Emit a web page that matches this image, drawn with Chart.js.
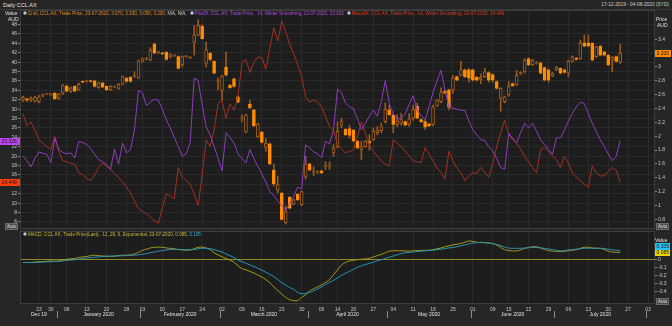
<!DOCTYPE html>
<html>
<head>
<meta charset="utf-8">
<title>Daily CCL.AX</title>
<script src="https://cdn.jsdelivr.net/npm/chart.js@4.4.0/dist/chart.umd.min.js"></script>
<style>
  body { margin: 0; width: 672px; height: 326px; overflow: hidden; background: #262626; position: relative;
         font-family: "Liberation Sans", Arial, sans-serif; }
  canvas { position: absolute; left: 0; }
  #main { top: 10px; }
  #macd { top: 229px; }
  .t { position: absolute; white-space: nowrap; font-size: 5px; line-height: 6px; color: #cfcfcf; }
  .leg { font-size: 4.6px; }
  .leg .ic { margin-left: 3px; }
  .leg .ic:first-child { margin-left: 0; }
  .ic { display: inline-block; width: 4px; height: 4px; border-radius: 50%; background: #e6e6e6;
        border: 1px solid #6d7f99; box-sizing: border-box; margin-right: 1px; vertical-align: -0.5px; }
  .auto { position: absolute; font-size: 4.5px; line-height: 5px; color: #e0e0e0; background: #4a4a4a;
          border: 1px solid #6c6c6c; padding: 0 1px; }
  #topline { position: absolute; left: 0; top: 9px; width: 672px; height: 1px; background: #3a3a3a; }
</style>
</head>
<body>
<div class="t" style="left:3px;top:2px;font-size:5.5px;color:#e0e0e0">Daily CCL.AX</div>
<div class="t" style="right:3px;top:2px;font-size:4.8px;color:#cfcfcf">17-12-2019 - 04-08-2020 (SYD)</div>
<div id="topline"></div>
<canvas id="main" width="672" height="219" style="width:672px;height:219px"></canvas>
<canvas id="macd" width="672" height="97" style="width:672px;height:97px"></canvas>
<div id="labels"></div>

<script>
// trading calendar (ASX)
const firstDay = '2019-12-17';
const lastDay = '2020-08-04';
const holidays = ['2019-12-25', '2019-12-26', '2020-01-01', '2020-01-27', '2020-04-10', '2020-04-13', '2020-06-08'];
const monthLabels = ['Dec 19', 'January 2020', 'February 2020', 'March 2020', 'April 2020', 'May 2020', 'June 2020', 'July 2020', ''];

// daily candles, AUD
const candleOpen = [2.52,2.54,2.52,2.51,2.50,2.58,2.61,2.60,2.62,2.55, 2.62,2.72,2.65,2.72,2.67,2.79,2.79,2.80,2.80,2.70,
  2.77,2.72,2.67,2.71,2.69,2.75,2.84,2.85,2.86,2.84, 3.08,3.11,3.10,3.33,3.21,3.20,3.21,3.14,3.16,3.15,
  3.03,3.15,3.13,3.36,3.46,3.59,3.05,3.20,3.08,2.79, 2.66,3.00,2.74,2.83,2.57,2.25,2.06,2.46,2.38,1.99,
  2.06,1.84,1.89,1.51,1.22,1.18,0.75,1.12,1.02,1.16, 1.01,1.42,1.60,1.48,1.48,1.50,1.56,1.57,1.76,1.85,
  2.16,2.10,2.11,2.09,1.93,1.81,1.85,1.93,1.95,2.05, 2.08,2.21,2.38,2.31,2.17,2.19,2.21,2.17,2.26,2.43,
  2.24,2.21,2.18,2.17,2.44,2.50,2.65,2.67,2.67,2.86, 2.88,2.96,2.96,2.96,2.85,2.82,2.86,2.92,2.89,2.79,
  2.55,2.50,2.60,2.76,2.74,2.90,2.93,3.12,3.03,3.05, 3.06,2.99,2.96,2.87,2.96,2.98,2.96,2.91,3.08,3.13,
  3.12,3.35,3.35,3.34,3.15,3.30,3.22,3.17,3.10,3.15, 3.07];
const candleHigh = [2.58,2.55,2.57,2.58,2.59,2.61,2.62,2.61,2.63,2.62, 2.75,2.74,2.71,2.73,2.77,2.80,2.81,2.81,2.81,2.78,
  2.78,2.73,2.73,2.73,2.76,2.87,2.85,2.86,2.93,3.10, 3.13,3.14,3.28,3.35,3.22,3.21,3.22,3.19,3.18,3.16,
  3.16,3.16,3.15,3.60,3.68,3.61,3.36,3.21,3.09,2.84, 2.88,3.22,2.75,2.84,2.58,2.31,2.32,2.52,2.39,2.19,
  2.07,1.97,1.90,1.60,1.42,1.19,0.99,1.13,1.09,1.17, 1.21,1.71,1.61,1.56,1.50,1.51,1.63,1.63,1.88,2.21,
  2.26,2.11,2.16,2.10,1.94,1.93,1.94,2.02,2.12,2.14, 2.19,2.48,2.45,2.32,2.31,2.33,2.22,2.33,2.45,2.48,
  2.25,2.23,2.19,2.45,2.53,2.70,2.67,2.68,2.88,2.87, 3.08,2.97,2.98,2.97,2.86,2.90,2.98,2.93,2.90,2.80,
  2.70,2.58,2.79,2.77,2.95,2.93,3.12,3.13,3.11,3.08, 3.07,3.00,2.97,2.92,3.01,2.99,2.97,3.10,3.16,3.14,
  3.39,3.46,3.46,3.35,3.30,3.31,3.23,3.18,3.15,3.16, 3.33];
const candleLow = [2.50,2.50,2.50,2.49,2.48,2.57,2.60,2.59,2.53,2.53, 2.60,2.64,2.63,2.64,2.66,2.77,2.78,2.78,2.71,2.69,
  2.70,2.66,2.66,2.70,2.68,2.74,2.78,2.78,2.85,2.83, 3.07,3.10,3.09,3.19,3.19,3.18,3.10,3.13,3.15,2.97,
  3.00,3.14,3.12,3.17,3.45,3.40,3.00,3.09,2.90,2.67, 2.52,2.87,2.69,2.71,2.48,2.21,2.05,2.40,2.14,1.98,
  1.90,1.78,1.59,1.28,1.18,0.79,0.73,0.95,1.01,1.07, 1.00,1.38,1.50,1.43,1.46,1.46,1.52,1.52,1.71,1.83,
  2.12,2.01,1.97,1.92,1.82,1.66,1.84,1.80,1.94,2.02, 2.05,2.19,2.30,2.05,2.14,2.16,2.15,2.14,2.23,2.25,
  2.20,2.10,2.14,2.15,2.43,2.48,2.61,2.38,2.62,2.80, 2.87,2.85,2.78,2.80,2.80,2.76,2.85,2.78,2.78,2.68,
  2.36,2.48,2.58,2.72,2.73,2.89,2.91,3.02,3.02,3.04, 2.90,2.80,2.78,2.86,2.95,2.90,2.91,2.86,3.07,3.10,
  3.11,3.29,3.29,3.09,3.14,3.16,3.16,3.02,2.93,3.07, 3.05];
const candleClose = [2.56,2.52,2.55,2.56,2.57,2.60,2.61,2.60,2.54,2.61, 2.74,2.65,2.70,2.65,2.75,2.78,2.80,2.79,2.72,2.77,
  2.71,2.67,2.72,2.72,2.75,2.86,2.79,2.79,2.86,3.09, 3.12,3.12,3.24,3.20,3.21,3.19,3.11,3.18,3.17,2.98,
  3.15,3.15,3.14,3.46,3.60,3.41,3.25,3.11,2.91,2.80, 2.87,2.88,2.70,2.72,2.49,2.25,2.31,2.41,2.15,2.18,
  1.91,1.90,1.60,1.31,1.30,0.80,0.91,0.96,1.08,1.08, 1.20,1.60,1.51,1.48,1.48,1.47,1.57,1.57,1.83,2.07,
  2.21,2.02,2.01,1.93,1.83,1.85,1.93,1.90,2.07,2.09, 2.14,2.39,2.31,2.17,2.22,2.24,2.16,2.25,2.39,2.26,
  2.21,2.13,2.15,2.42,2.52,2.63,2.62,2.42,2.84,2.81, 2.96,2.86,2.84,2.81,2.81,2.85,2.93,2.81,2.81,2.69,
  2.69,2.57,2.72,2.73,2.88,2.92,3.10,3.03,3.10,3.06, 2.91,2.81,2.81,2.91,3.00,2.91,2.92,3.08,3.15,3.11,
  3.34,3.30,3.30,3.10,3.29,3.17,3.17,3.03,3.14,3.08, 3.20];

// directional indicators (14, Wilder)
const plusDI = [20.0,19.0,17.7,19.5,20.9,20.6,20.4,18.6,23.8,21.4, 20.8,20.5,20.7,19.6,23.1,22.9,22.5,21.6,20.4,19.3,
  18.8,18.2,17.2,21.5,18.3,22.8,20.7,21.4,25.6,34.0, 33.5,30.8,31.5,32.1,31.9,30.0,27.7,26.0,24.0,22.0,
  20.0,20.5,22.8,36.6,36.1,31.0,26.3,24.5,22.1,19.5, 16.9,25.0,24.0,22.8,20.5,19.5,18.6,21.4,19.5,17.8,
  16.2,14.5,12.5,11.6,10.5,9.5,8.5,9.9,11.5,13.4, 13.0,22.4,21.8,20.9,20.5,19.7,23.2,22.6,25.6,34.3,
  33.5,31.3,30.5,30.1,28.0,25.6,27.0,28.5,29.8,28.5, 31.5,36.1,31.2,29.0,28.0,28.0,29.0,31.0,32.9,29.8,
  28.7,27.7,30.5,33.6,36.0,38.3,34.0,30.5,30.2,30.0, 29.8,29.7,27.5,25.6,24.5,23.5,23.3,22.0,21.1,19.5,
  17.6,17.2,24.9,23.8,22.8,25.0,27.0,26.0,27.0,25.3, 23.5,22.5,21.4,20.4,23.9,23.9,25.5,27.5,29.1,30.5,
  31.5,31.2,29.0,27.0,25.2,23.5,22.1,20.5,19.0,20.0, 23.326];
const minusDI = [29.0,26.5,27.3,25.5,23.5,22.8,22.0,21.4,24.2,21.0, 19.0,18.8,18.5,18.3,16.5,16.0,15.3,14.8,16.0,17.6,
  18.6,17.8,17.2,16.2,15.5,14.5,13.4,12.3,10.5,8.8, 8.2,7.8,7.0,6.3,5.7,9.0,12.0,11.5,10.9,17.6,
  15.5,14.8,14.0,12.0,9.5,16.0,23.5,22.0,25.6,31.2, 31.9,28.0,31.2,29.8,32.7,39.9,40.6,37.8,40.0,41.1,
  41.0,38.5,43.0,47.3,44.5,48.7,46.5,43.8,41.8,39.5, 37.0,32.6,31.5,31.9,31.5,30.5,28.4,26.3,25.5,22.5,
  21.5,20.7,21.0,21.4,24.0,27.3,24.9,22.5,21.0,20.0, 19.0,18.3,17.9,23.5,22.8,22.0,21.1,20.0,19.0,18.8,
  18.6,21.8,20.4,19.0,17.5,16.5,15.1,21.1,19.0,17.5, 16.5,14.8,15.8,16.5,16.3,17.6,16.5,15.5,18.5,22.1,
  25.0,27.7,24.6,23.5,22.8,21.5,20.0,18.8,17.6,16.5, 21.4,21.8,21.0,20.0,19.3,17.6,20.0,18.5,16.5,15.5,
  14.8,14.0,13.4,17.9,16.5,15.8,15.8,16.8,17.6,17.0, 14.449];

// MACD 12, 26, 9
const macdLine = [-0.04,-0.04,-0.04,-0.035,-0.03,-0.03,-0.025,-0.02,-0.025,-0.02, -0.01,0,0.005,0.01,0.02,0.03,0.035,0.045,0.05,0.045,
  0.04,0.035,0.035,0.04,0.045,0.05,0.05,0.055,0.065,0.085, 0.11,0.125,0.14,0.148,0.15,0.148,0.14,0.135,0.13,0.12,
  0.115,0.112,0.115,0.13,0.148,0.15,0.14,0.12,0.08,0.055, 0.03,0.01,-0.01,-0.035,-0.08,-0.115,-0.13,-0.15,-0.17,-0.195,
  -0.22,-0.25,-0.29,-0.34,-0.385,-0.43,-0.47,-0.5,-0.51,-0.51, -0.47,-0.44,-0.39,-0.365,-0.34,-0.315,-0.285,-0.25,-0.19,-0.13,
  -0.07,-0.04,-0.02,-0.012,-0.005,0,0.005,0.01,0.03,0.045, 0.06,0.08,0.1,0.105,0.105,0.105,0.103,0.1,0.105,0.107,
  0.11,0.11,0.112,0.118,0.13,0.14,0.155,0.165,0.178,0.185, 0.195,0.21,0.226,0.22,0.21,0.205,0.205,0.2,0.195,0.175,
  0.145,0.118,0.108,0.103,0.103,0.115,0.135,0.145,0.155,0.155, 0.14,0.12,0.108,0.1,0.097,0.095,0.098,0.105,0.112,0.118,
  0.135,0.148,0.148,0.14,0.135,0.135,0.12,0.1,0.09,0.085, 0.085];
const macdSignal = [-0.04,-0.04,-0.04,-0.038,-0.036,-0.034,-0.032,-0.03,-0.028,-0.025, -0.02,-0.015,-0.01,-0.005,0,0.01,0.015,0.02,0.025,0.03,
  0.035,0.04,0.04,0.04,0.042,0.044,0.046,0.048,0.05,0.055, 0.062,0.07,0.08,0.09,0.1,0.107,0.115,0.12,0.123,0.122,
  0.12,0.118,0.118,0.12,0.13,0.136,0.135,0.13,0.12,0.105, 0.09,0.065,0.045,0.02,-0.01,-0.03,-0.05,-0.07,-0.09,-0.11,
  -0.135,-0.16,-0.185,-0.215,-0.25,-0.29,-0.32,-0.35,-0.37,-0.41, -0.425,-0.42,-0.41,-0.39,-0.365,-0.34,-0.31,-0.285,-0.26,-0.23,
  -0.2,-0.173,-0.15,-0.125,-0.1,-0.08,-0.065,-0.05,-0.035,-0.02, -0.005,0.01,0.025,0.04,0.055,0.07,0.08,0.085,0.09,0.095,
  0.1,0.105,0.108,0.112,0.118,0.125,0.132,0.14,0.145,0.155, 0.165,0.178,0.19,0.2,0.205,0.21,0.208,0.2,0.192,0.182,
  0.168,0.15,0.138,0.135,0.135,0.136,0.138,0.142,0.145,0.145, 0.14,0.135,0.128,0.12,0.11,0.103,0.108,0.115,0.12,0.125,
  0.13,0.136,0.136,0.136,0.136,0.136,0.132,0.125,0.118,0.11, 0.105];

const valueTicks = [6,8,10,12,14,16,18,20,22,24,26,28,30,32,34,36,38,40,42,44,46,48];
const priceTicks = [0.8,1,1.2,1.4,1.6,1.8,2,2.2,2.4,2.6,2.8,3,3.2,3.4];
const macdTicks = [0,-0.1,-0.2,-0.3,-0.4];

function tradingDays(from, to) {
  const out = [];
  const d = new Date(from + 'T00:00:00Z');
  const end = new Date(to + 'T00:00:00Z');
  while (d <= end) {
    const iso = d.toISOString().slice(0, 10);
    const wd = d.getUTCDay();
    if (wd !== 0 && wd !== 6 && !holidays.includes(iso)) out.push(iso);
    d.setUTCDate(d.getUTCDate() + 1);
  }
  return out;
}
const days = tradingDays(firstDay, lastDay);
const weekday = iso => new Date(iso + 'T00:00:00Z').getUTCDay();
const weekStarts = [];
const monthStarts = [0];
days.forEach((iso, i) => {
  if (i === 0) return;
  if (weekday(iso) < weekday(days[i - 1])) weekStarts.push(i);
  if (iso.slice(5, 7) !== days[i - 1].slice(5, 7)) monthStarts.push(i);
});

Chart.defaults.font.family = '"Liberation Sans", Arial, sans-serif';
Chart.defaults.font.size = 5;
Chart.defaults.color = '#c8c8c8';

const last = a => a[a.length - 1];
const up = candleClose.map((c, i) => c >= candleOpen[i]);

function noPad(s) { s.paddingTop = 0; s.paddingBottom = 0; s.paddingLeft = 0; s.paddingRight = 0; }

function tag(ctx, x, y, w, text, bg) {
  ctx.fillStyle = bg;
  ctx.fillRect(x, Math.round(y) - 3, w, 7);
  ctx.fillStyle = '#111';
  ctx.font = '5px "Liberation Sans", Arial';
  ctx.textAlign = 'left';
  ctx.textBaseline = 'middle';
  ctx.fillText(text, x + 1.5, Math.round(y) + 0.5);
}

const panel = {
  id: 'panel',
  beforeDraw(chart) {
    const { ctx, chartArea: a } = chart;
    ctx.save();
    ctx.fillStyle = '#1d1d1d';
    ctx.fillRect(a.left, a.top, a.right - a.left, a.bottom - a.top);
    ctx.restore();
  },
  afterDraw(chart) {
    const { ctx, chartArea: a } = chart;
    ctx.save();
    ctx.strokeStyle = '#3d3d3d';
    ctx.lineWidth = 1;
    ctx.strokeRect(a.left - 0.5, a.top + 0.5, a.right - a.left + 1, a.bottom - a.top - 1);
    ctx.restore();
  }
};

const mainTags = {
  id: 'mainTags',
  afterDraw(chart) {
    const ctx = chart.ctx, v = chart.scales.val, p = chart.scales.price;
    ctx.save();
    tag(ctx, 0, v.getPixelForValue(last(plusDI)), 20, last(plusDI).toFixed(3), '#b845ee');
    tag(ctx, 0, v.getPixelForValue(last(minusDI)), 20, last(minusDI).toFixed(3), '#ff3c0c');
    tag(ctx, 655, p.getPixelForValue(last(candleClose)), 16, last(candleClose).toFixed(3), '#ff8c00');
    ctx.restore();
  }
};

new Chart(document.getElementById('main'), {
  type: 'bar',
  data: {
    labels: days,
    datasets: [
      {
        type: 'line', data: plusDI, yAxisID: 'val', order: 0,
        borderColor: '#8f3cbf', borderWidth: 1, pointRadius: 0, tension: 0
      },
      {
        type: 'line', data: minusDI, yAxisID: 'val', order: 0,
        borderColor: '#a33020', borderWidth: 1, pointRadius: 0, tension: 0
      },
      {
        data: candleOpen.map((o, i) => [o, candleClose[i]]), yAxisID: 'price', order: 1,
        grouped: false, barThickness: 3, minBarLength: 1, borderSkipped: false,
        backgroundColor: up.map(u => u ? '#1d1d1d' : '#ff8c00'),
        borderColor: up.map(u => u ? '#a65e1c' : '#ff8c00'),
        borderWidth: 1
      },
      {
        data: candleLow.map((l, i) => [l, candleHigh[i]]), yAxisID: 'price', order: 2,
        grouped: false, barThickness: 1, borderWidth: 0,
        backgroundColor: '#9c5818'
      }
    ]
  },
  options: {
    responsive: false,
    animation: false,
    events: [],
    devicePixelRatio: 1,
    layout: { padding: 0 },
    plugins: { legend: { display: false }, tooltip: { enabled: false } },
    scales: {
      x: {
        offset: true,
        grid: { offset: false, color: '#2a2a2a', drawTicks: false },
        border: { display: false },
        ticks: { display: false },
        afterBuildTicks: s => { s.ticks = weekStarts.map(v => ({ value: v })); },
        afterFit: s => { s.height = 0; noPad(s); }
      },
      val: {
        position: 'left', min: 4.5, max: 51.1,
        grid: { color: '#2a2a2a', tickLength: 3, tickColor: '#8a8a8a' },
        border: { display: false },
        ticks: { padding: 1, autoSkip: false, color: '#c8c8c8' },
        afterBuildTicks: s => { s.ticks = valueTicks.map(v => ({ value: v })); },
        afterFit: s => { s.width = 21; noPad(s); }
      },
      price: {
        position: 'right', min: 0.66, max: 3.823,
        grid: { drawOnChartArea: false, tickLength: 3, tickColor: '#8a8a8a' },
        border: { display: false },
        ticks: { padding: 1, autoSkip: false, color: '#c8c8c8', callback: v => String(+v.toFixed(1)) },
        afterBuildTicks: s => { s.ticks = priceTicks.map(v => ({ value: v })); },
        afterFit: s => { s.width = 18; noPad(s); }
      }
    }
  },
  plugins: [panel, mainTags]
});

const months = {
  id: 'months',
  afterDraw(chart) {
    const ctx = chart.ctx, x = chart.scales.x;
    const half = (x.getPixelForValue(1) - x.getPixelForValue(0)) / 2;
    ctx.save();
    ctx.font = '5px "Liberation Sans", Arial';
    ctx.textAlign = 'center';
    ctx.textBaseline = 'middle';
    monthStarts.forEach((s, k) => {
      const e = k + 1 < monthStarts.length ? monthStarts[k + 1] : days.length;
      const x0 = x.getPixelForValue(s) - half;
      const x1 = x.getPixelForValue(e - 1) + half;
      if (k > 0) {
        ctx.fillStyle = '#8a8a8a';
        ctx.fillRect(Math.round(x0), 82, 1, 7);
      }
      if (monthLabels[k]) {
        ctx.fillStyle = '#e2e2e2';
        ctx.fillText(monthLabels[k], (x0 + x1) / 2, 86);
      }
    });
    const y = chart.scales.y;
    const ly = y.getPixelForValue(last(macdLine));
    tag(ctx, 655, ly, 15, last(macdLine).toFixed(3), '#e8d400');
    tag(ctx, 655, ly - 6, 15, last(macdSignal).toFixed(3), '#1ec4f4');
    ctx.restore();
  }
};

new Chart(document.getElementById('macd'), {
  type: 'line',
  data: {
    labels: days,
    datasets: [
      { data: macdSignal, borderColor: '#2398bb', borderWidth: 1, pointRadius: 0, tension: 0.3 },
      { data: macdLine, borderColor: '#a89a16', borderWidth: 1, pointRadius: 0, tension: 0.3 }
    ]
  },
  options: {
    responsive: false,
    animation: false,
    events: [],
    devicePixelRatio: 1,
    layout: { padding: { top: 2, left: 21 } },
    plugins: { legend: { display: false }, tooltip: { enabled: false } },
    scales: {
      x: {
        offset: true,
        grid: { offset: false, color: '#2a2a2a', drawTicks: false },
        border: { display: false },
        ticks: { autoSkip: false, maxRotation: 0, padding: 3, color: '#c8c8c8',
                 callback: v => days[v].slice(8, 10) },
        afterBuildTicks: s => { s.ticks = weekStarts.map(v => ({ value: v })); },
        afterFit: s => { s.height = 22; noPad(s); }
      },
      y: {
        position: 'right', min: -0.552, max: 0.349,
        grid: {
          color: c => (c.tick && c.tick.value === 0) ? '#8f8924' : 'rgba(0,0,0,0)',
          tickLength: 3, tickColor: '#8a8a8a'
        },
        border: { display: false },
        ticks: { padding: 1, autoSkip: false, color: '#c8c8c8', callback: v => v === 0 ? '0' : v.toFixed(1) },
        afterBuildTicks: s => { s.ticks = macdTicks.map(v => ({ value: v })); },
        afterFit: s => { s.width = 18; noPad(s); }
      }
    }
  },
  plugins: [panel, months]
});

// legends and axis captions
const icon = '<span class="ic"></span>';
const lastDate = '23-07-2020';
const f3 = v => v.toFixed(3);
const overlay = [
  `<div class="t leg" style="left:23px;top:10.5px">` +
    `${icon}<span style="color:#f08c1c">Cndl, CCL.AX, Trade Price, ${lastDate}, ${f3(last(candleOpen))}, ${f3(last(candleHigh))}, ${f3(last(candleLow))}, ${f3(last(candleClose))},</span> <span style="color:#d8d8d8">N/A, N/A,</span>` +
    `${icon}<span style="color:#b04ce0">PlusDI, CCL.AX, Trade Price,&nbsp; 14, Wilder Smoothing, ${lastDate}, ${f3(last(plusDI))}</span>` +
    `${icon}<span style="color:#e23a1e">MinusDI, CCL.AX, Trade Price,&nbsp; 14, Wilder Smoothing, ${lastDate}, ${f3(last(minusDI))}</span></div>`,
  `<div class="t leg" style="left:23px;top:231.5px">${icon}<span style="color:#c9b83a">MACD, CCL.AX, Trade Price(Last),&nbsp; 12, 26, 9, Exponential, ${lastDate}, ${f3(last(macdLine))},</span> <span style="color:#3ab0dc">${f3(last(macdSignal))}</span></div>`,
  `<div class="t" style="left:5px;top:10px;color:#e0e0e0">Value</div>`,
  `<div class="t" style="left:8px;top:16px;color:#e0e0e0">AUD</div>`,
  `<div class="t" style="left:656px;top:16px;color:#e0e0e0">Price</div>`,
  `<div class="t" style="left:657px;top:22px;color:#e0e0e0">AUD</div>`,
  `<div class="t" style="left:655px;top:237px;color:#e0e0e0">Value</div>`,
  `<div class="auto" style="left:5px;top:223px">Auto</div>`,
  `<div class="auto" style="left:656px;top:223px">Auto</div>`,
  `<div class="auto" style="left:656px;top:298px">Auto</div>`
];
document.getElementById('labels').innerHTML = overlay.join('');
</script>
</body>
</html>
